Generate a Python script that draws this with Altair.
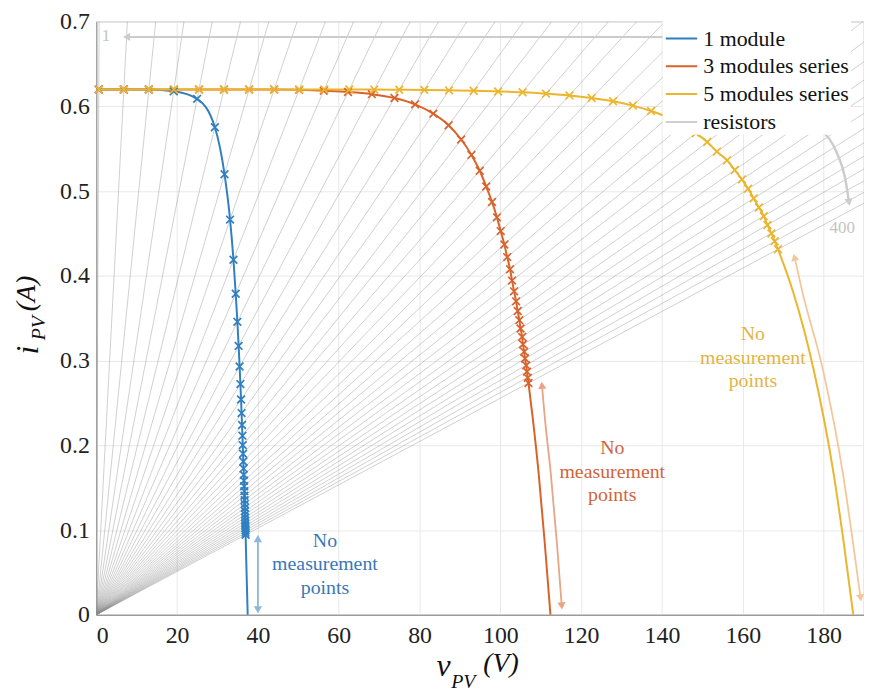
import altair as alt
import pandas as pd

# ---------------- data ----------------
series_names = ["1 module", "3 modules series", "5 modules series", "resistors"]
series_colors = ["#2f7fc1", "#d9622b", "#ebb52e", "rgba(140,140,140,0.42)"]

# load resistances (ohm) of the swept resistor lines
resistances = [1, 11, 21, 31, 41, 51, 61, 71, 81, 91, 101, 111, 121, 131, 141, 151,
               161, 171, 181, 191, 201, 211, 221, 231, 241, 251, 261, 271, 281, 291,
               301, 311, 321, 331, 341, 351, 361, 371, 381, 391]

# measurement points (x markers)
blue_v = [0.62, 6.82, 13.02, 19.16, 24.96, 29.35, 31.74, 33.11, 33.95, 34.51, 34.92, 35.23,
          35.47, 35.67, 35.83, 35.96, 36.07, 36.17, 36.25, 36.33, 36.39, 36.46, 36.51, 36.56,
          36.60, 36.64, 36.67, 36.71, 36.74, 36.77, 36.79, 36.82, 36.84, 36.86, 36.88, 36.90,
          36.91, 36.93, 36.95, 36.96]
blue_i = [0.62, 0.62, 0.62, 0.618, 0.609, 0.5755, 0.520, 0.4665, 0.419, 0.379, 0.3458, 0.3174,
          0.2931, 0.2723, 0.2541, 0.2381, 0.224, 0.2115, 0.2003, 0.1902, 0.1810, 0.1728, 0.1652,
          0.1582, 0.1518, 0.146, 0.1405, 0.1354, 0.1307, 0.1263, 0.1222, 0.1183, 0.1148, 0.1113,
          0.1081, 0.1051, 0.1023, 0.0995, 0.097, 0.0945]
blue_tail_v = [37.1, 37.3, 37.47]
blue_tail_i = [0.067, 0.031, 0.0]

orange_v = [0.62, 6.82, 13.02, 19.22, 25.42, 31.62, 37.82, 44.02, 50.2, 56.3, 62.3, 68.2, 73.8,
            78.9, 83.4, 87.2, 90.3, 92.85, 94.9, 96.5, 97.95, 99.15, 100.1, 101.0, 101.7, 102.4,
            102.9, 103.4, 103.9, 104.3, 104.7, 105.0, 105.4, 105.6, 105.9, 106.1, 106.4, 106.6,
            106.8, 106.97]
orange_i = [0.62, 0.62, 0.62, 0.62, 0.62, 0.62, 0.62, 0.62, 0.6196, 0.6184, 0.617, 0.6145, 0.610,
            0.6025, 0.5915, 0.5778, 0.561, 0.5428, 0.5241, 0.5055, 0.4873, 0.4691, 0.4529, 0.437,
            0.4222, 0.4078, 0.3945, 0.3818, 0.370, 0.3586, 0.3478, 0.3379, 0.328, 0.3193, 0.3106,
            0.3025, 0.2944, 0.287, 0.2797, 0.2735]
orange_tail_v = [108.0, 109.5, 111.0, 112.4]
orange_tail_i = [0.233, 0.166, 0.0845, 0.0]

yellow_v = [0.62, 6.82, 13.02, 19.22, 25.42, 31.62, 37.82, 44.02, 50.22, 56.42, 62.62, 68.8, 75.0,
            81.2, 87.3, 93.4, 99.45, 105.5, 111.3, 117.1, 122.6, 127.9, 132.8, 137.3, 141.5, 145.1,
            148.4, 151.2, 153.6, 156.1, 158.0, 159.8, 161.3, 162.7, 164.0, 165.2, 166.1, 167.1,
            167.9, 168.7]
yellow_i = [0.62, 0.62, 0.62, 0.62, 0.62, 0.62, 0.62, 0.62, 0.62, 0.62, 0.62, 0.6199, 0.6197,
            0.6195, 0.619, 0.6185, 0.6177, 0.6167, 0.6151, 0.613, 0.610, 0.6061, 0.601, 0.5946,
            0.587, 0.578, 0.5685, 0.558, 0.5467, 0.5364, 0.525, 0.514, 0.5028, 0.4915, 0.4807,
            0.4705, 0.4601, 0.4502, 0.441, 0.4315]
yellow_tail_v = [172.5, 177.5, 182.5, 185.0, 187.35]
yellow_tail_i = [0.3804, 0.2902, 0.1661, 0.0845, 0.0]

# annotation texts
note_lines = ["No", "measurement", "points"]
blue_note_v, blue_note_i = 56.6, [0.0875, 0.0595, 0.0315]
orange_note_v, orange_note_i = 127.7, [0.197, 0.169, 0.141]
yellow_note_v, yellow_note_i = 162.5, [0.331, 0.303, 0.276]

# annotation arrows (shafts)
blue_arrow_v = [40.0, 40.0]
blue_arrow_i = [0.09, 0.006]
orange_arrow_v = [110.3, 111.0, 112.5, 114.0, 115.2]
orange_arrow_i = [0.271, 0.233, 0.166, 0.0845, 0.0105]
yellow_arrow_v = [172.8, 174.8, 179.8, 184.8, 187.3, 189.15]
yellow_arrow_i = [0.422, 0.38, 0.29, 0.166, 0.0845, 0.02]
one_arrow_v = [145.0, 7.5]
one_arrow_i = [0.682, 0.682]
r400_arrow_v = [179.7, 183.3, 185.3, 186.3]
r400_arrow_i = [0.571, 0.545, 0.516, 0.487]

# ---------------- frames ----------------
res_rows = []
for R in resistances:
    res_rows.append({"R": R, "v": 0.0, "i": 0.0, "series": "resistors"})
    res_rows.append({"R": R, "v": 190.0, "i": 190.0 / R, "series": "resistors"})
res_df = pd.DataFrame(res_rows)

curve_rows, marker_rows = [], []
for name, mv, mi, tv, ti in [
    ("1 module", blue_v, blue_i, blue_tail_v, blue_tail_i),
    ("3 modules series", orange_v, orange_i, orange_tail_v, orange_tail_i),
    ("5 modules series", yellow_v, yellow_i, yellow_tail_v, yellow_tail_i),
]:
    for v, i in zip(mv, mi):
        curve_rows.append({"series": name, "v": v, "i": i})
        marker_rows.append({"series": name, "v": v, "i": i})
    for v, i in zip(tv, ti):
        curve_rows.append({"series": name, "v": v, "i": i})
curve_df = pd.DataFrame(curve_rows)
marker_df = pd.DataFrame(marker_rows)

SERIF = "Tinos, 'Liberation Serif', 'Times New Roman', 'DejaVu Serif', serif"
xs = alt.Scale(domain=[0, 190], nice=False, zero=False)
ys = alt.Scale(domain=[0, 0.7], nice=False, zero=False)
X = alt.X("v:Q", scale=xs, axis=alt.Axis(values=list(range(0, 181, 20)), title=None,
                                        grid=True, ticks=False, labelPadding=9))
Y = alt.Y("i:Q", scale=ys, axis=alt.Axis(values=[0, 0.1, 0.2, 0.3, 0.4, 0.5, 0.6, 0.7],
                                        format=".1~f", title=None, grid=True, ticks=False,
                                        labelPadding=7))
color = alt.Color("series:N", scale=alt.Scale(domain=series_names, range=series_colors),
                  legend=alt.Legend(title=None, orient="none", legendX=571, legendY=-2,
                                    fillColor="white", padding=2, labelFont=SERIF,
                                    labelFontSize=22, labelColor="#111", symbolType="stroke",
                                    symbolSize=1000, symbolStrokeWidth=2, rowPadding=-8,
                                    labelOffset=5, labelLimit=300))

res_layer = alt.Chart(res_df).mark_line(clip=True, strokeWidth=1).encode(
    x=X, y=Y, color=color, detail="R:N")
curve_layer = alt.Chart(curve_df).mark_line(interpolate="monotone", strokeWidth=2, clip=True).encode(
    x=X, y=Y, color=color, order=alt.Order("v:Q"))
xshape = "M-1,-1L1,1M-1,1L1,-1"
marker_layer = alt.Chart(marker_df).mark_point(shape=xshape, filled=False, size=60,
                                               strokeWidth=1.7, opacity=1).encode(
    x=X, y=Y, color=alt.Color("series:N", scale=alt.Scale(domain=series_names, range=series_colors),
                              legend=None))

layers = [res_layer, curve_layer, marker_layer]


def arrow_layers(vs, is_, col, heads, width=1.8):
    df = pd.DataFrame({"v": vs, "i": is_, "k": list(range(len(vs)))})
    out = [alt.Chart(df).mark_line(color=col, strokeWidth=width, interpolate="monotone").encode(
        x=X, y=Y, order="k:Q")]
    for (hv, hi, shape, ang) in heads:
        hdf = pd.DataFrame({"v": [hv], "i": [hi]})
        out.append(alt.Chart(hdf).mark_point(shape=shape, filled=True, color=col, size=70,
                                             angle=ang, opacity=1).encode(x=X, y=Y))
    return out


layers += arrow_layers(blue_arrow_v, blue_arrow_i, "#8db7df",
                       [(40.0, 0.09, "triangle-up", 0), (40.0, 0.006, "triangle-down", 0)])
layers += arrow_layers(orange_arrow_v, orange_arrow_i, "#e9a386",
                       [(110.3, 0.271, "triangle-up", 355), (115.2, 0.0105, "triangle-down", 356)])
layers += arrow_layers(yellow_arrow_v, yellow_arrow_i, "#f4c79a",
                       [(172.8, 0.422, "triangle-up", 347), (189.15, 0.02, "triangle-down", 352)])
layers += arrow_layers(one_arrow_v, one_arrow_i, "#cccccc",
                       [(7.5, 0.682, "triangle-left", 0)], width=2)
layers += arrow_layers(r400_arrow_v, r400_arrow_i, "#cccccc",
                       [(186.3, 0.487, "triangle-down", 351)], width=2.5)

for nv, ni, col in [(blue_note_v, blue_note_i, "#3a78b5"),
                    (orange_note_v, orange_note_i, "#d2643c"),
                    (yellow_note_v, yellow_note_i, "#e3b446")]:
    tdf = pd.DataFrame({"v": [nv] * 3, "i": ni, "t": note_lines})
    layers.append(alt.Chart(tdf).mark_text(font=SERIF, fontSize=20, color=col).encode(
        x=X, y=Y, text="t:N"))

gray_df = pd.DataFrame({"v": [2.4, 184.6], "i": [0.683, 0.456], "t": ["1", "400"]})
layers.append(alt.Chart(gray_df).mark_text(font=SERIF, fontSize=17, color="#c4c4c4").encode(
    x=X, y=Y, text="t:N"))

# axis titles (italic with subscript)
def ttl(txt, px, py, size, angle=0):
    return alt.Chart(pd.DataFrame({"t": [txt]})).mark_text(
        font=SERIF, fontStyle="italic", fontSize=size, color="#111", angle=angle).encode(
        x=alt.value(px), y=alt.value(py), text="t:N")

layers += [ttl("v", 350, 650, 32), ttl("PV", 370, 666, 20), ttl("(V)", 408, 648, 28)]
layers += [ttl("i", -69, 331, 32, 270), ttl("PV", -58, 309, 20, 270), ttl("(A)", -70, 274, 28, 270)]

chart = alt.layer(*layers).properties(
    width=774, height=598,
    autosize=alt.AutoSizeParams(type="none"),
    padding={"left": 89, "top": 11, "right": 0, "bottom": 80},
    background="white",
).configure_view(stroke="#b8b8b8", strokeWidth=1.2).configure_axis(
    labelFont=SERIF, labelFontSize=24, labelColor="#222", gridColor="#e8e8e8",
    domainColor="#9a9a9a", domainWidth=1.2)

chart.save("out.html", embed_options={"renderer": "svg", "actions": False})
